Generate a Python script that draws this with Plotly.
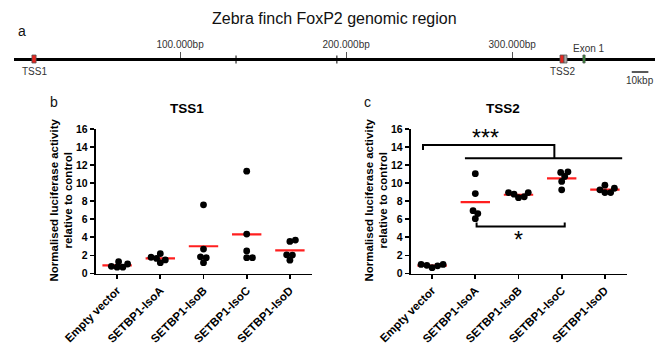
import plotly.graph_objects as go

# ---------------- data ----------------
categories = ["Empty vector", "SETBP1-IsoA", "SETBP1-IsoB", "SETBP1-IsoC", "SETBP1-IsoD"]

tss1_values = [
    [0.80, 1.30, 0.70, 1.05, 0.70],
    [1.67, 2.20, 1.80, 1.50, 1.20],
    [7.60, 2.70, 1.85, 1.75, 1.20],
    [11.33, 4.37, 2.50, 1.75, 1.75],
    [3.70, 3.55, 2.07, 2.04, 1.48],
]
tss2_values = [
    [0.90, 1.00, 0.65, 1.00, 0.85],
    [11.05, 8.85, 6.96, 6.63, 6.07],
    [8.96, 8.96, 8.40, 8.50, 8.78],
    [10.74, 11.19, 11.26, 10.20, 9.26],
    [9.26, 9.78, 9.44, 8.96, 8.96],
]
y_tick_values = [0, 2, 4, 6, 8, 10, 12, 14, 16]

# genome diagram (bp)
genome_length = 386000
scale_ticks = [100000, 200000, 300000]
scale_tick_labels = ["100.000bp", "200.000bp", "300.000bp"]
marker_ticks = [133700, 194400]
feature_names = ["TSS1", "TSS2", "", "Exon 1"]
feature_starts = [10800, 328800, 331200, 342600]
feature_ends = [13300, 331200, 333000, 343900]
feature_colors = ["#e8251f", "#e8251f", "#a9a9a9", "#2f8f2f"]
scale_bar_bp = 10000
scale_bar_start = 372000

# ---------------- helpers ----------------
W, H = 669, 352
FONT = "Liberation Sans, Arial, sans-serif"


def swarm_offsets(vals, px_per_unit, px_per_cat, diam=5.6, step=0.25):
    order = sorted(range(len(vals)), key=lambda i: vals[i])
    placed = []
    offs = [0.0] * len(vals)
    for i in order:
        y = vals[i] * px_per_unit
        k = 0
        while True:
            cands = [0.0] if k == 0 else [k * step, -k * step]
            ok = None
            for c in cands:
                if all((c - px) ** 2 + (y - py) ** 2 >= diam ** 2 for px, py in placed):
                    ok = c
                    break
            if ok is not None:
                placed.append((ok, y))
                offs[i] = ok / px_per_cat
                break
            k += 1
    return offs


def mean(v):
    return sum(v) / len(v)


fig = go.Figure()

panels = [("x", "y", tss1_values), ("x2", "y2", tss2_values)]
px_per_unit = 144.5 / 16
px_per_cat = 43.2
for xa, ya, data in panels:
    xs, ys = [], []
    lx, ly = [], []
    for ci, vals in enumerate(data):
        offs = swarm_offsets(vals, px_per_unit, px_per_cat)
        xs += [ci + o for o in offs]
        ys += vals
        m = mean(vals)
        lx += [ci - 0.34, ci + 0.34, None]
        ly += [m, m, None]
    fig.add_trace(go.Scatter(x=lx, y=ly, mode="lines", line=dict(color="#ff1f1f", width=2.2),
                             xaxis=xa, yaxis=ya, hoverinfo="skip", showlegend=False))
    fig.add_trace(go.Scatter(x=xs, y=ys, mode="markers", marker=dict(color="black", size=6.8),
                             xaxis=xa, yaxis=ya, showlegend=False))

# significance brackets (panel c)
brackets = [
    ([-0.21, -0.21, 2.83, 2.83], [13.68, 14.24, 14.24, 12.76]),
    ([0.76, 4.40], [12.76, 12.76]),
    ([1.03, 1.03, 3.07, 3.07], [5.64, 5.2, 5.2, 5.64]),
]
for bx, by in brackets:
    fig.add_trace(go.Scatter(x=bx, y=by, mode="lines", line=dict(color="black", width=2),
                             xaxis="x2", yaxis="y2", hoverinfo="skip", showlegend=False))

# genome diagram: marker ticks crossing the line
gx, gy = [], []
for t in marker_ticks:
    gx += [t, t, None]
    gy += [0.18, -0.22, None]
fig.add_trace(go.Scatter(x=gx, y=gy, mode="lines", line=dict(color="#555555", width=1.5),
                         xaxis="x3", yaxis="y3", hoverinfo="skip", showlegend=False))
# scale bar
fig.add_trace(go.Scatter(x=[scale_bar_start, scale_bar_start + scale_bar_bp], y=[-0.65, -0.65],
                         mode="lines", line=dict(color="#222222", width=1.5),
                         xaxis="x3", yaxis="y3", hoverinfo="skip", showlegend=False))

shapes = []
for s, e, c in zip(feature_starts, feature_ends, feature_colors):
    shapes.append(dict(type="rect", xref="x3", yref="y3", x0=s, x1=e, y0=-0.2, y1=0.2,
                       fillcolor=c, line=dict(color="#555555", width=0.8)))

annotations = []


def ann(x, y, text, xref="paper", yref="paper", **kw):
    d = dict(x=x, y=y, xref=xref, yref=yref, text=text, showarrow=False,
             xanchor="center", yanchor="middle")
    d.update(kw)
    annotations.append(d)


# feature labels
for name, s, e in zip(feature_names, feature_starts, feature_ends):
    if not name:
        continue
    ypos = 0.55 if name.startswith("Exon") else -0.6
    xc = (s + e) / 2 + (3000 if name.startswith("Exon") else 0)
    ann(xc, ypos, name, "x3", "y3", font=dict(family=FONT, size=10, color="#333333"))
ann(scale_bar_start + scale_bar_bp / 2, -1.05, "10kbp", "x3", "y3",
    font=dict(family=FONT, size=10, color="#333333"))


def px2paper_x(px):
    return px / W


def px2paper_y(py):
    return 1 - py / H


ann(0.5, px2paper_y(18), "Zebra finch FoxP2 genomic region", font=dict(family=FONT, size=16, color="#111111"))
ann(px2paper_x(22), px2paper_y(31), "a", font=dict(family=FONT, size=14, color="#111111"))
ann(px2paper_x(54), px2paper_y(102), "b", font=dict(family=FONT, size=14, color="#111111"))
ann(px2paper_x(367), px2paper_y(102), "c", font=dict(family=FONT, size=14, color="#111111"))
ann(px2paper_x(187), px2paper_y(108), "TSS1", font=dict(family=FONT, size=13.5, color="black", weight="bold"))
ann(px2paper_x(503), px2paper_y(108), "TSS2", font=dict(family=FONT, size=13.5, color="black", weight="bold"))

ytitle = "Normalised luciferase activity<br>relative to control"
for xc in (60.5, 375.5):
    ann(px2paper_x(xc), px2paper_y(200), ytitle, textangle=-90,
        font=dict(family=FONT, size=11.5, color="black", weight="bold"))
# significance stars
ann(1.23, 15.0, "***", "x2", "y2", font=dict(family=FONT, size=23, color="black"))
ann(2.0, 3.7, "*", "x2", "y2", font=dict(family=FONT, size=23, color="black"))

xcat = dict(range=[-0.5, 4.5], tickvals=list(range(len(categories))), ticktext=categories,
            tickangle=-45, ticks="outside", ticklen=4, tickwidth=1.8, tickcolor="black",
            showline=True, linecolor="black", linewidth=1.8, showgrid=False, zeroline=False,
            tickfont=dict(family=FONT, size=11.5, color="black", weight="bold"), fixedrange=True,
            automargin=False)
ylin = dict(range=[0, 16], tickvals=y_tick_values, ticks="outside", ticklen=4, tickwidth=1.8,
            tickcolor="black", showline=True, linecolor="black", linewidth=1.8, showgrid=False,
            zeroline=False, tickfont=dict(family=FONT, size=10.5, color="black", weight="bold"),
            fixedrange=True, automargin=False)

y_dom = [px2paper_y(273.5), px2paper_y(129)]
line_y = 59
fig.update_layout(
    width=W, height=H, margin=dict(l=0, r=0, t=0, b=0, autoexpand=False),
    paper_bgcolor="white", plot_bgcolor="white",
    xaxis=dict(xcat, domain=[px2paper_x(95.5), px2paper_x(311.5)], anchor="y"),
    yaxis=dict(ylin, domain=y_dom, anchor="x"),
    xaxis2=dict(xcat, domain=[px2paper_x(410.5), px2paper_x(626.5)], anchor="y2"),
    yaxis2=dict(ylin, domain=y_dom, anchor="x2"),
    xaxis3=dict(domain=[px2paper_x(14), px2paper_x(655)], range=[0, genome_length],
                anchor="free", position=px2paper_y(line_y), side="top",
                tickvals=scale_ticks, ticktext=scale_tick_labels, ticks="outside", ticklen=6,
                tickwidth=1, tickcolor="#555555", showline=True, linecolor="black", linewidth=2.5,
                showgrid=False, zeroline=False, tickfont=dict(family=FONT, size=10, color="#333333"),
                fixedrange=True, automargin=False),
    yaxis3=dict(domain=[px2paper_y(line_y + 30), px2paper_y(line_y - 30)], range=[-1.5, 1.5],
                anchor="x3", visible=False, fixedrange=True, automargin=False),
    shapes=shapes, annotations=annotations, showlegend=False,
)

fig.write_html(
    "out.html",
    config={"displayModeBar": False, "staticPlot": True},
    post_script="document.body.style.margin='0';document.body.style.padding='0';"
                "document.documentElement.style.overflow='hidden';",
)
